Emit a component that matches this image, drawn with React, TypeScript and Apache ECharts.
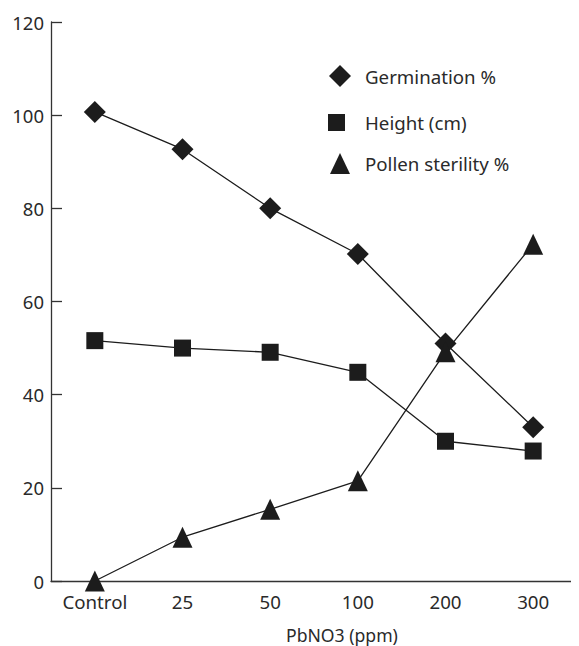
import React, { useEffect, useRef } from "react";
import * as echarts from "echarts";

const categories = ["Control", "25", "50", "100", "200", "300"];
const germination = [100.7, 92.7, 80, 70.2, 51, 33];
const height = [51.6, 50, 49.1, 44.8, 30, 27.9];
const pollen = [0, 9.4, 15.4, 21.5, 49.2, 72.3];
const yTicks = { min: 0, max: 120, interval: 20 };
const xName = "PbNO3 (ppm)";

const FONT = "'Noto Sans', sans-serif";
const TXT = "#2a2a2a";
const INK = "#1c1c1c";

export default function App() {
  const ref = useRef<HTMLDivElement>(null);
  useEffect(() => {
    if (!ref.current) return;
    const chart = echarts.init(ref.current, null, { renderer: "svg" });
    const lineStyle = { color: INK, width: 1.3 };
    const legendBase = {
      orient: "vertical" as const,
      padding: 0,
      itemGap: 0,
      selectedMode: false,
      textStyle: { fontFamily: FONT, fontSize: 18.7, color: TXT },
    };
    chart.setOption({
      animation: false,
      backgroundColor: "#fff",
      grid: { left: 43, right: 10, top: 14, bottom: 73, containLabel: false },
      legend: [
        {
          ...legendBase,
          left: 321,
          top: 57,
          itemWidth: 22,
          itemHeight: 22,
          data: [{ name: "Germination %", icon: "diamond" }],
          textStyle: { ...legendBase.textStyle, padding: [0, 0, 0, 9] },
        },
        {
          ...legendBase,
          left: 320,
          top: 105,
          itemWidth: 17,
          itemHeight: 17,
          data: [{ name: "Height (cm)", icon: "rect" }],
          textStyle: { ...legendBase.textStyle, padding: [0, 0, 0, 15] },
        },
        {
          ...legendBase,
          left: 322,
          top: 145,
          itemWidth: 20,
          itemHeight: 21,
          data: [{ name: "Pollen sterility %", icon: "triangle" }],
          textStyle: { ...legendBase.textStyle, padding: [0, 0, 0, 10] },
        },
      ],
      xAxis: {
        type: "category",
        data: categories,
        boundaryGap: true,
        axisLine: { lineStyle: { color: "#333", width: 1.3 } },
        axisTick: { inside: true, length: 11, alignWithLabel: false, lineStyle: { color: "#333", width: 1.3 } },
        axisLabel: { fontFamily: FONT, fontSize: 18.7, color: TXT, margin: 11 },
        splitLine: { show: false },
      },
      yAxis: {
        type: "value",
        min: yTicks.min,
        max: yTicks.max,
        interval: yTicks.interval,
        axisLine: { show: true, lineStyle: { color: "#333", width: 1.3 } },
        axisTick: { show: true, inside: true, length: 11, lineStyle: { color: "#333", width: 1.3 } },
        axisLabel: { fontFamily: FONT, fontSize: 18.5, color: TXT, margin: 7 },
        splitLine: { show: false },
      },
      graphic: [
        {
          type: "text",
          left: 278,
          top: 618,
          style: { text: xName, fontFamily: FONT, fontSize: 17.6, fill: TXT },
        },
      ],
      series: [
        {
          name: "Germination %",
          type: "line",
          data: germination,
          symbol: "diamond",
          symbolSize: 22,
          itemStyle: { color: INK },
          lineStyle,
        },
        {
          name: "Height (cm)",
          type: "line",
          data: height,
          symbol: "rect",
          symbolSize: 17,
          itemStyle: { color: INK },
          lineStyle,
        },
        {
          name: "Pollen sterility %",
          type: "line",
          data: pollen,
          symbol: "triangle",
          symbolSize: [20, 21],
          itemStyle: { color: INK },
          lineStyle,
        },
      ],
    });
    return () => chart.dispose();
  }, []);
  return <div ref={ref} style={{ width: 579, height: 646 }} />;
}
